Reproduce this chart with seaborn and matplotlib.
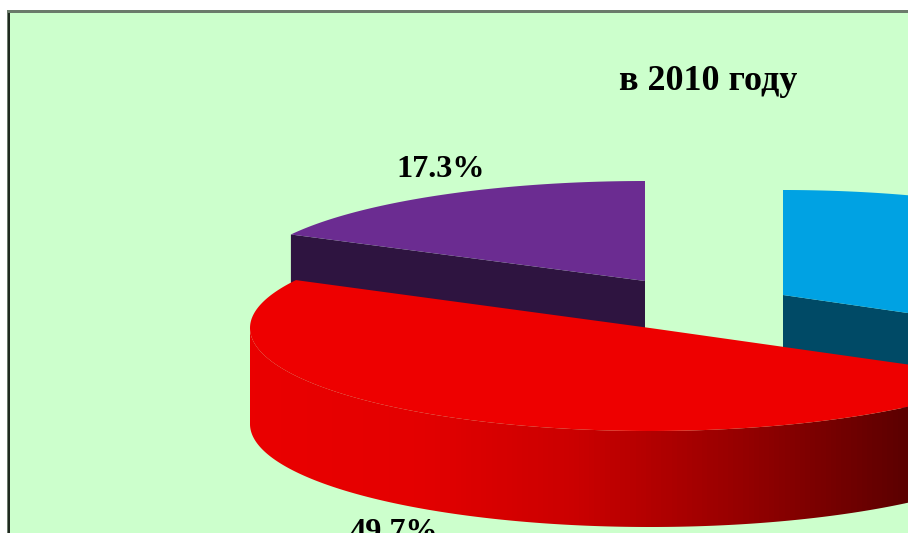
import numpy as np
import matplotlib
matplotlib.use("Agg")
import matplotlib.pyplot as plt
from matplotlib.colors import ListedColormap
from matplotlib.patches import Polygon, Rectangle
import seaborn as sns

# --- donnees ---
title = "в 2010 году"
slices = ["purple", "red", "blue"]
shares = [17.3, 49.7, 33.0]
shown_labels = ["17.3%", "49.7%", None]

# --- couleurs ---
top_colors = ["#6B2C91", "#EE0000", "#00A2E3"]
cut_colors = ["#2E1440", "#C00000", "#004A66"]
bg = "#CCFFCC"

# --- geometrie de la tarte (pixels de l'image) ---
apex_x = [645, 650, 783]
apex_y = [281, 328, 295]
radius_x = 400
radius_y = [100, 103, 105]
depth = 96
draw_order = [0, 2, 1]
# quelle extremite de la part montre sa face coupee
cut_side = [1, None, 0]
label_xy = [(441, 177), (393.5, 540), None]

sns.set_theme(style="white")
plt.rcParams["font.family"] = ["Liberation Serif", "DejaVu Serif"]

fig = plt.figure(figsize=(9.08, 5.33), dpi=100, facecolor="white")
ax = fig.add_axes([0, 0, 1, 1])
ax.set_xlim(0, 908)
ax.set_ylim(533, 0)
ax.set_axis_off()

# cadre
ax.add_patch(Rectangle((7, 9.5), 901, 523.5, fc="#6B7B6B", ec="none"))
ax.add_patch(Rectangle((8.3, 12.5), 900, 520.5, fc="#1F2A1F", ec="none"))
ax.add_patch(Rectangle((10, 12.8), 898, 520.2, fc=bg, ec="none"))

# degrade du bord rouge, de gauche a droite
wall = sns.blend_palette(["#EA0000", "#E40000", "#CA0000", "#960000", "#5C0000"], n_colors=128)
wall_cmap = ListedColormap(wall)


def arc(i, t0, t1, n=200):
    t = np.radians(np.linspace(t0, t1, n))
    return apex_x[i] + radius_x * np.cos(t), apex_y[i] - radius_y[i] * np.sin(t)


# les angles viennent des parts, en partant de 90 degres
angles = np.cumsum([0] + [s * 3.6 for s in shares]) + 90

for i in draw_order:
    t0, t1 = angles[i], angles[i + 1]
    x, y = arc(i, t0, t1)

    # face coupee visible
    if cut_side[i] is not None:
        ex, ey = arc(i, angles[i + cut_side[i]], angles[i + cut_side[i]], 1)
        ax.add_patch(Polygon([(apex_x[i], apex_y[i]), (ex[0], ey[0]), (ex[0], ey[0] + depth),
                              (apex_x[i], apex_y[i] + depth)], fc=cut_colors[i], ec="none"))

    # paroi exterieure (seulement devant), seule la rouge se voit
    lo, hi = max(t0, 180), min(t1, 360)
    if hi > lo and slices[i] == "red":
        sx, sy = arc(i, lo, hi, 300)
        pts = np.r_[np.c_[sx, sy], np.c_[sx[::-1], sy[::-1] + depth]]
        clip = Polygon(pts, fc="none", ec="none", transform=ax.transData)
        ax.add_patch(clip)
        im = ax.imshow(np.linspace(0, 1, 128)[None, :], cmap=wall_cmap, aspect="auto",
                       extent=(250, 908, 533, 300), zorder=1.5)
        im.set_clip_path(clip)
        top_z = 2
    else:
        top_z = 1

    # dessus
    ax.add_patch(Polygon(np.r_[[[apex_x[i], apex_y[i]]], np.c_[x, y]], fc=top_colors[i], ec="none",
                         zorder=top_z))

ax.set_xlim(0, 908)
ax.set_ylim(533, 0)

for txt, pos in zip(shown_labels, label_xy):
    if txt:
        ax.text(pos[0], pos[1], txt, ha="center", va="baseline", fontsize=23.2,
                fontweight="bold", color="black", zorder=5)

ax.text(708, 90.5, title, ha="center", va="baseline", fontsize=26, fontweight="bold", color="black",
        zorder=5)

fig.savefig("out.png", dpi=100, facecolor="white")
